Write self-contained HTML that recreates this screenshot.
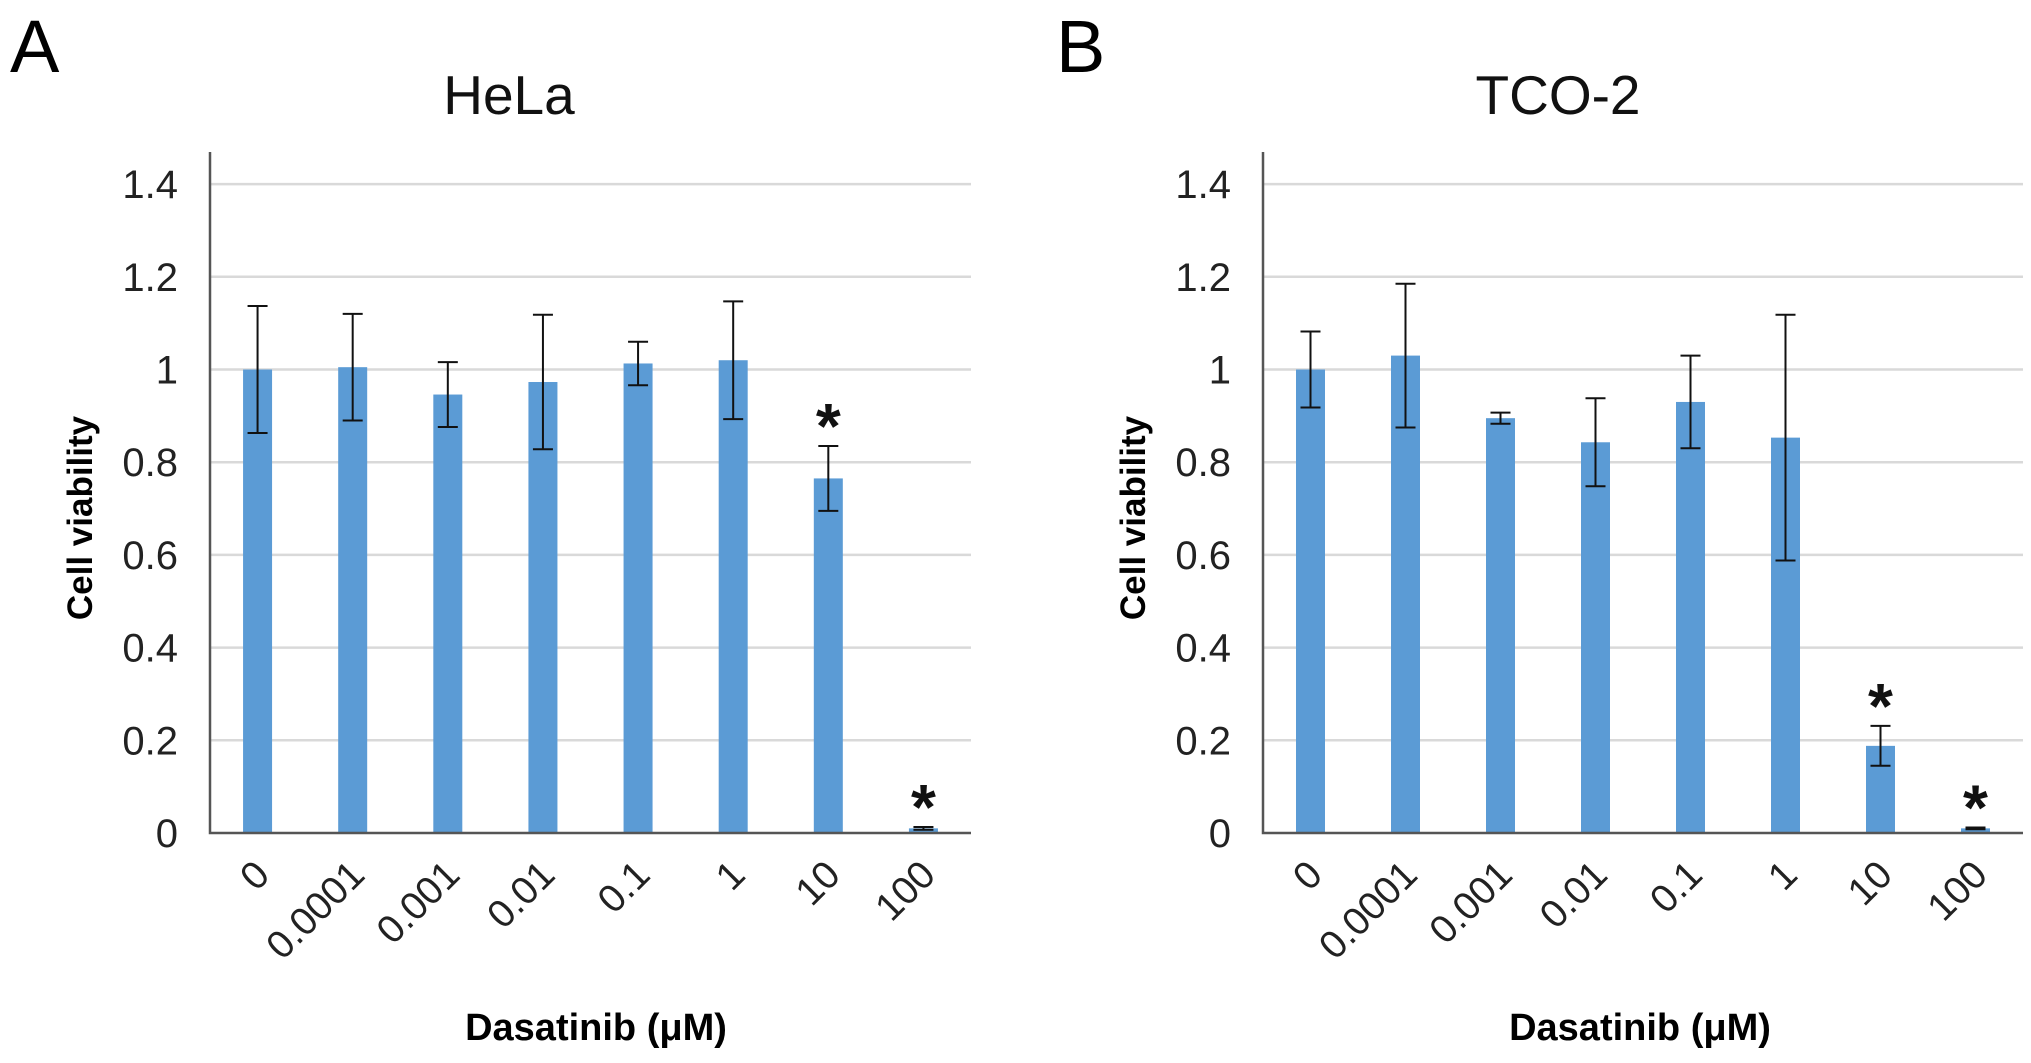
<!DOCTYPE html>
<html><head><meta charset="utf-8">
<style>html,body{margin:0;padding:0;background:#fff;}svg{display:block;font-family:"Liberation Sans",Arial,sans-serif;}</style>
</head><body>
<svg id="fig" width="2031" height="1063" viewBox="0 0 2031 1063">
<text x="10" y="72" font-size="74" fill="#000">A</text>
<text x="1056" y="72" font-size="74" fill="#000">B</text>
</svg>
<script>
const categories = ["0","0.0001","0.001","0.01","0.1","1","10","100"];
const helaValues = [1.0,1.005,0.946,0.973,1.013,1.02,0.765,0.01];
const helaErrors = [0.137,0.115,0.07,0.145,0.047,0.127,0.07,0.003];
const helaStars = [false,false,false,false,false,false,true,true];
const tcoValues = [1.0,1.03,0.895,0.843,0.93,0.853,0.188,0.01];
const tcoErrors = [0.082,0.155,0.012,0.095,0.1,0.265,0.043,0.002];
const tcoStars = [false,false,false,false,false,false,true,true];
const yTicks = [0,0.2,0.4,0.6,0.8,1,1.2,1.4];
const yTickLabels = ["0","0.2","0.4","0.6","0.8","1","1.2","1.4"];

const NS="http://www.w3.org/2000/svg";
const svg=document.getElementById('fig');
function mk(tag,attrs,parent){const e=document.createElementNS(NS,tag);for(const k in attrs)e.setAttribute(k,attrs[k]);(parent||svg).appendChild(e);return e;}

function panel(id,x0,x1,title,titleX,xTitleX,vals,errs,stars){
  const base=833, yTop=152;
  const g=mk('g',{});
  
  
  const y=v=>base-v/0.2*92.7;
  const bw=(x1-x0)/categories.length;
  const xc=i=>x0+bw*(i+0.5);
  yTicks.forEach((t,i)=>{
    if(t>0){const l=mk('line',{x1:x0,x2:x1,y1:y(t),y2:y(t),stroke:'#d9d9d9','stroke-width':2.5},g);
      }
    const tx=mk('text',{x:x0-32,y:y(t)+14,'font-size':40,'text-anchor':'end',fill:'#222'},g);
    tx.textContent=yTickLabels[i];
    
  });
  vals.forEach((v,i)=>{
    const b=mk('rect',{x:xc(i)-14.5,y:y(v),width:29,height:base-y(v),fill:'#5b9bd5'},g);
    
    const e=errs[i];
    const eb=mk('path',{d:`M${xc(i)} ${y(v+e)}V${y(v-e)}M${xc(i)-10} ${y(v+e)}h20M${xc(i)-10} ${y(v-e)}h20`,stroke:'#111','stroke-width':2,fill:'none'},g);
    
    if(stars[i]){const s=mk('text',{x:xc(i),y:y(v+e)+2,'font-size':64,'font-weight':'bold','text-anchor':'middle',fill:'#111'},g);
      s.textContent='*';}
    const lx=xc(i)+14, ly=base+44;
    const lt=mk('text',{x:lx,y:ly,'font-size':39,'text-anchor':'end',fill:'#222',transform:`rotate(-45 ${lx} ${ly})`},g);
    lt.textContent=categories[i];
    
  });
  const ax=mk('path',{d:`M${x0} ${yTop}V${base}H${x1}`,stroke:'#555','stroke-width':2.5,fill:'none'},g);
  
  const t=mk('text',{x:titleX,y:114,'font-size':55,'text-anchor':'middle',fill:'#111'},g);
  t.textContent=title;
  const yt=mk('text',{x:0,y:0,'font-size':35,'font-weight':'bold','text-anchor':'middle',fill:'#000',transform:`translate(${x0-118} 518) rotate(-90)`},g);
  yt.textContent='Cell viability';
  const xt=mk('text',{x:xTitleX,y:1040,'font-size':38,'font-weight':'bold','text-anchor':'middle',fill:'#000'},g);
  xt.textContent='Dasatinib (μM)';
}
panel('hela',210,971,'HeLa',509,596,helaValues,helaErrors,helaStars);
panel('tco2',1263,2023,'TCO-2',1558,1640,tcoValues,tcoErrors,tcoStars);
</script>
</body></html>
